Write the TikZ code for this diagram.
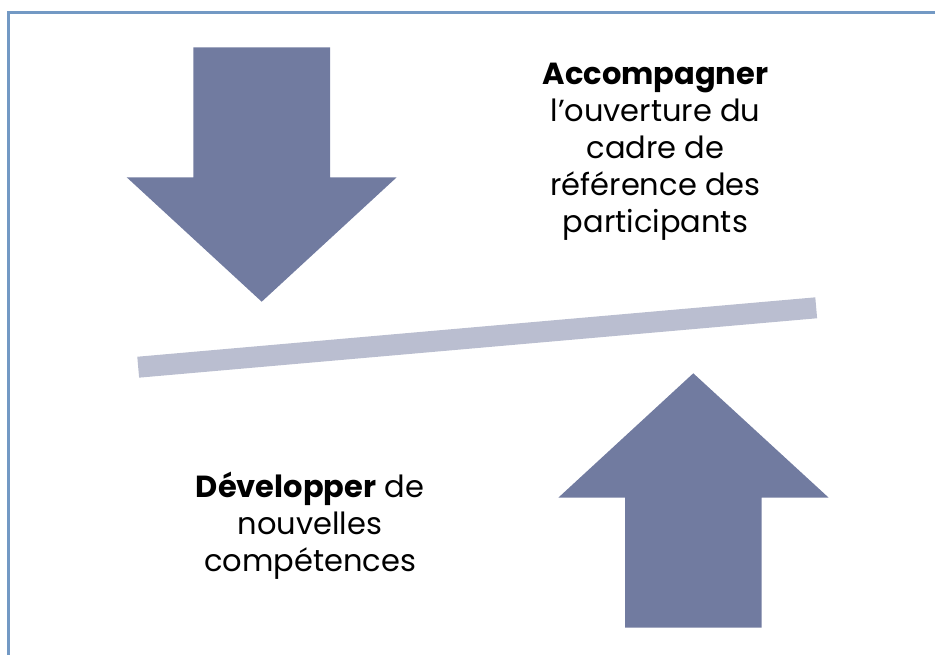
\documentclass[tikz,border=0pt]{standalone}
\usepackage{fontspec}
\setmainfont{Poppins}
\definecolor{arrowcol}{HTML}{717BA0}
\definecolor{barcol}{HTML}{BABED0}
\definecolor{framecol}{HTML}{7399C4}
\begin{document}
\begin{tikzpicture}[x=1pt,y=-1pt,
  bigarrow/.style={fill=arrowcol,draw=none},
  label/.style={align=center,inner sep=0pt,font=\fontsize{30.5}{37}\selectfont,text=black}]
\useasboundingbox (0,0) rectangle (935,655);
\begin{scope}
\clip (0,0) rectangle (935,655);
\draw[framecol,line width=2.5pt] (8.5,12.5) rectangle (945,670);
\end{scope}
% down arrow
\fill[bigarrow] (193.3,47.3) -- (330,47.3) -- (330,177.3) -- (396.7,177.3)
  -- (261.7,301.7) -- (126.7,177.3) -- (193.3,177.3) -- cycle;
% up arrow
\fill[bigarrow] (693.3,373.3) -- (828.7,497.7) -- (761.7,497.7) -- (761.7,627.7)
  -- (625,627.7) -- (625,497.7) -- (558.3,497.7) -- cycle;
% bar
\coordinate (barL) at (138.2,367.2);
\coordinate (barR) at (816.2,307.8);
\draw[barcol,line width=21pt] (barL) -- (barR);
% texts
\node[label,anchor=base] (top) at (655.5,233) {\textbf{Accompagner}\\l’ouverture du\\cadre de\\référence des\\participants};
\node[label,anchor=base] (bot) at (310,571.7) {\textbf{Développer} de\\nouvelles\\compétences};
\end{tikzpicture}
\end{document}
